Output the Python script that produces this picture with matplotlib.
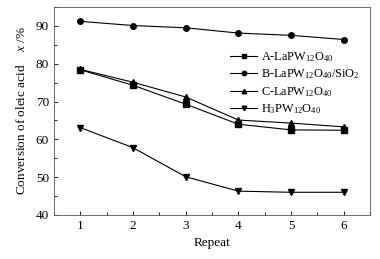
import matplotlib
matplotlib.use("Agg")
import matplotlib.pyplot as plt
from matplotlib.ticker import MultipleLocator

plt.rcParams['font.family'] = ['Liberation Serif', 'DejaVu Serif']
plt.rcParams['mathtext.fontset'] = 'custom'
plt.rcParams['mathtext.rm'] = 'Liberation Serif'
plt.rcParams['mathtext.it'] = 'Liberation Serif:italic'

repeat = [1, 2, 3, 4, 5, 6]
a_lapw = [78.4, 74.3, 69.3, 64.0, 62.5, 62.4]
b_lapw_sio2 = [91.2, 90.1, 89.5, 88.1, 87.5, 86.4]
c_lapw = [78.5, 75.1, 71.2, 65.1, 64.3, 63.3]
h3pw = [63.1, 57.8, 50.1, 46.3, 46.0, 46.0]

labels = [r'A-LaPW$_{12}$O$_{40}$',
          r'B-LaPW$_{12}$O$_{40}$/SiO$_2$',
          r'C-LaPW$_{12}$O$_{40}$',
          r'H$_3$PW$_{12}$O$_{40}$']

fig, ax = plt.subplots(figsize=(3.8, 2.59), dpi=100)
fig.subplots_adjust(left=0.142, right=0.974, top=0.973, bottom=0.17)

ax.plot(repeat, a_lapw, 'k-s', ms=4, lw=0.8, label=labels[0])
ax.plot(repeat, b_lapw_sio2, 'k-o', ms=4, lw=0.8, label=labels[1])
ax.plot(repeat, c_lapw, 'k-^', ms=4, lw=0.8, label=labels[2])
ax.plot(repeat, h3pw, 'k-v', ms=4, lw=0.8, label=labels[3])

ax.set_xlim(0.5, 6.5)
ax.set_ylim(40, 95)
ax.xaxis.set_major_locator(MultipleLocator(1))
ax.xaxis.set_minor_locator(MultipleLocator(0.5))
ax.yaxis.set_major_locator(MultipleLocator(10))
ax.yaxis.set_minor_locator(MultipleLocator(5))
ax.tick_params(which='both', direction='in', labelsize=9.5, width=0.6)
ax.tick_params(which='major', length=3)
ax.tick_params(which='minor', length=2)
for s in ax.spines.values():
    s.set_linewidth(0.6)
    s.set_color('#555555')

ax.set_xlabel('Repeat', fontsize=9.5)
ax.set_ylabel(r'Conversion of oleic acid    $\it{x}$ /%', fontsize=9.5, labelpad=6)

ax.legend(loc='upper left', bbox_to_anchor=(0.53, 0.835), frameon=False,
          fontsize=8.8, handlelength=2.2, labelspacing=0.3, handletextpad=0.3,
          markerscale=0.8, borderpad=0.2)

fig.savefig('out.png', dpi=100)
